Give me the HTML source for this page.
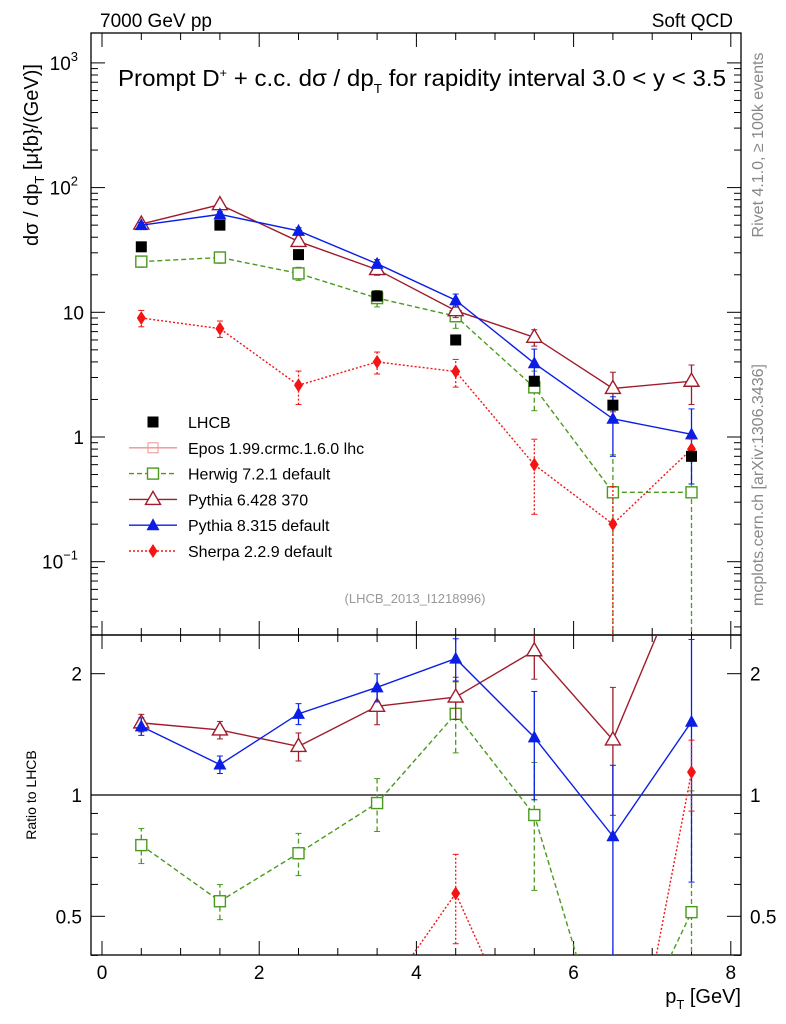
<!DOCTYPE html>
<html><head><meta charset="utf-8"><style>
html,body{margin:0;background:#fff;overflow:hidden;width:786px;height:1024px}
svg{display:block;font-family:"Liberation Sans",sans-serif}
</style></head><body>
<svg id="c" width="786" height="1024" viewBox="0 0 786 1024">
<text x="100" y="27" font-size="19">7000 GeV pp</text>
<text x="733" y="27" font-size="19" text-anchor="end">Soft QCD</text>
<text x="118" y="86" font-size="23" textLength="608" lengthAdjust="spacingAndGlyphs">Prompt D<tspan dy="-9" font-size="12">+</tspan><tspan dy="9"> + c.c.  dσ / dp</tspan><tspan dy="7" font-size="13">T</tspan><tspan dy="-7"> for rapidity interval 3.0 &lt; y &lt; 3.5</tspan></text>
<text transform="translate(763,145) rotate(-90)" font-size="16" fill="#888" text-anchor="middle">Rivet 4.1.0, ≥ 100k events</text>
<text transform="translate(763,485) rotate(-90)" font-size="16" fill="#888" text-anchor="middle">mcplots.cern.ch [arXiv:1306.3436]</text>
<text transform="translate(38,155) rotate(-90)" font-size="20" text-anchor="middle">dσ / dp<tspan dy="6" font-size="13">T</tspan><tspan dy="-6"> [μ{b}/(GeV)]</tspan></text>
<text transform="translate(36,795) rotate(-90)" font-size="14" text-anchor="middle">Ratio to LHCB</text>
<text x="741" y="1003" font-size="20" text-anchor="end">p<tspan dy="6" font-size="13">T</tspan><tspan dy="-6"> [GeV]</tspan></text>
<text x="415" y="603" font-size="13" fill="#999" text-anchor="middle">(LHCB_2013_I1218996)</text>
<g id="g"></g>
</svg>
<script>
const xCenters=[0.5,1.5,2.5,3.5,4.5,5.5,6.5,7.5];
const lhcb=[33.5,50,29,13.5,6,2.8,1.8,0.7];
const herwig=[25.5,27.5,20.5,13,9.3,2.5,0.36,0.36];
const herwigErr=[0.1,0.1,0.12,0.15,0.2,0.35,1,1];
const pythia6=[51,73,37,22,10.3,6.3,2.45,2.8];
const pythia6Err=[0.05,0.05,0.08,0.1,0.12,0.15,0.35,0.35];
const pythia8=[50,61,45,24.5,12.5,3.9,1.4,1.05];
const pythia8Err=[0.05,0.05,0.06,0.08,0.12,0.3,0.5,0.6];
const sherpa=[9,7.4,2.6,4,3.35,0.6,0.2,0.8];
const sherpaErr=[0.15,0.15,0.3,0.2,0.25,0.6,1,0.2];
const rHerwig=[0.751,0.545,0.717,0.955,1.59,0.892,0.2,0.512];
const rPythia6=[1.51,1.45,1.32,1.66,1.75,2.28,1.37,4];
const rPythia8=[1.48,1.19,1.59,1.85,2.18,1.39,0.79,1.52];
const rSherpa=[0.27,0.15,0.09,0.30,0.57,0.21,0.11,1.14];
const xTicks=[0,2,4,6,8];
const NS="http://www.w3.org/2000/svg";
const g=document.getElementById('g');
const L=91,R=741,T=33,M=635,B=955;
const X=v=>102+v*78.6;
const Y=v=>437-Math.log10(v)*124.7;
const YR=v=>795-Math.log10(v)*403;
function el(t,a,p){const e=document.createElementNS(NS,t);for(const k in a)e.setAttribute(k,a[k]);(p||g).appendChild(e);return e;}
const defs=el('defs',{});
const c1=el('clipPath',{id:'cm'},defs);el('rect',{x:L,y:T,width:R-L,height:M-T},c1);
const c2=el('clipPath',{id:'cr'},defs);el('rect',{x:L,y:M,width:R-L,height:B-M},c2);
const f1=el('rect',{x:L,y:T,width:R-L,height:M-T,fill:'none',stroke:'#000','stroke-width':1.3});

const f2=el('rect',{x:L,y:M,width:R-L,height:B-M,fill:'none',stroke:'#000','stroke-width':1.3});

for(let d=-2;d<=3;d++){for(let m=1;m<10;m++){const v=m*Math.pow(10,d);const y=Y(v);if(y<T||y>M)continue;const len=m==1?14:7;
el('line',{x1:L,x2:L+len,y1:y,y2:y,stroke:'#000'});el('line',{x1:R,x2:R-len,y1:y,y2:y,stroke:'#000'});}}
const yl=[[1000,'10','3'],[100,'10','2'],[10,'10',''],[1,'1',''],[0.1,'10','−1']];
yl.forEach(a=>{const t=el('text',{x:a[2]?78:84,y:Y(a[0])+7,'font-size':19,'text-anchor':'end'});t.textContent=a[1];

if(a[2]){const s=el('tspan',{dy:-9,'font-size':13},t);s.textContent=a[2];}});
for(const v of [0.4,0.5,0.6,0.7,0.8,0.9,1,2]){const y=YR(v);const len=(v==0.5||v==1||v==2)?14:7;
el('line',{x1:L,x2:L+len,y1:y,y2:y,stroke:'#000'});el('line',{x1:R,x2:R-len,y1:y,y2:y,stroke:'#000'});}
[[2,'2'],[1,'1'],[0.5,'0.5']].forEach(a=>{const t=el('text',{x:82,y:YR(a[0])+7,'font-size':19,'text-anchor':'end'});t.textContent=a[1];

const t2=el('text',{x:750,y:YR(a[0])+7,'font-size':19});t2.textContent=a[1];
});
el('line',{x1:L,x2:R,y1:YR(1),y2:YR(1),stroke:'#000','stroke-width':1.2});
for(let v=0;v<=8.01;v+=0.5){const x=X(v);if(x<L||x>R)continue;const maj=Math.abs(v-Math.round(v/2)*2)<0.01;const len=maj?14:7;
for(const [a,b] of [[M,M-len],[B,B-len],[T,T+len],[M,M+len]])el('line',{x1:x,x2:x,y1:a,y2:b,stroke:'#000'});}
xTicks.forEach(v=>{const t=el('text',{x:X(v),y:979,'font-size':19,'text-anchor':'middle'});t.textContent=v;
});
function mark(p,x,y,type,col){
 if(type=='sq')el('rect',{x:x-5.5,y:y-5.5,width:11,height:11,fill:'#fff',stroke:col,'stroke-width':1.4},p);
 else if(type=='fsq')el('rect',{x:x-5.5,y:y-5.5,width:11,height:11,fill:col},p);
 else if(type=='otri')el('polygon',{points:`${x},${y-8} ${x-7.5},${y+5} ${x+7.5},${y+5}`,fill:'#fff',stroke:col,'stroke-width':1.4},p);
 else if(type=='tri')el('polygon',{points:`${x},${y-7} ${x-6.5},${y+5} ${x+6.5},${y+5}`,fill:col},p);
 else if(type=='dia')el('polygon',{points:`${x},${y-7} ${x-4.5},${y} ${x},${y+7} ${x+4.5},${y}`,fill:col},p);
 else if(type=='cross'){el('rect',{x:x-5,y:y-5,width:10,height:10,fill:'none',stroke:col},p);}
}
function series(name,vals,errs,yf,col,dash,type,clip){
 const p=el('g',{'clip-path':`url(#${clip})`});
 
 const lim=clip=='cm'?M:B;
 const clampY=y=>Math.max(T-20,Math.min(lim+5,y));
 const pts=vals.map((v,i)=>[X(xCenters[i]),yf(v)]);
 el('polyline',{points:pts.map(q=>q.join(',')).join(' '),fill:'none',stroke:col,'stroke-width':1.4,'stroke-dasharray':dash},p);
 vals.forEach((v,i)=>{const x=X(xCenters[i]);const e=errs[i];const lo=v*(1-e)>0?clampY(yf(v*(1-e))):lim+5;const hi=clampY(yf(v*(1+e)));
  el('line',{x1:x,x2:x,y1:lo,y2:hi,stroke:col,'stroke-width':1.3,'stroke-dasharray':dash},p);
  el('line',{x1:x-3,x2:x+3,y1:hi,y2:hi,stroke:col},p);if(lo<lim)el('line',{x1:x-3,x2:x+3,y1:lo,y2:lo,stroke:col},p);
  const my=yf(v);if(my>T-20&&my<lim+20)mark(p,x,my,type,col);});
}
const cH='#4a9a1e',cP6='#a01c2c',cP8='#0a1ee6',cS='#f51414';
series('herwig-series',herwig,herwigErr,Y,cH,'5,3','sq','cm');
series('pythia6-series',pythia6,pythia6Err,Y,cP6,'','otri','cm');
series('pythia8-series',pythia8,pythia8Err,Y,cP8,'','tri','cm');
series('sherpa-series',sherpa,sherpaErr,Y,cS,'2,2','dia','cm');
const lp=el('g',{'clip-path':'url(#cm)'});
lhcb.forEach((v,i)=>mark(lp,X(xCenters[i]),Y(v),'fsq','#000'));
series('herwig-ratio',rHerwig,herwigErr,YR,cH,'5,3','sq','cr');
series('pythia6-ratio',rPythia6,pythia6Err,YR,cP6,'','otri','cr');
series('pythia8-ratio',rPythia8,pythia8Err,YR,cP8,'','tri','cr');
series('sherpa-ratio',rSherpa,sherpaErr,YR,cS,'2,2','dia','cr');
const leg=[['LHCB','#000','','fsq',false],['Epos 1.99.crmc.1.6.0 lhc','#f09090','','cross',true],['Herwig 7.2.1 default',cH,'5,3','sq',true],['Pythia 6.428 370',cP6,'','otri',true],['Pythia 8.315 default',cP8,'','tri',true],['Sherpa 2.2.9 default',cS,'2,2','dia',true]];
leg.forEach((a,i)=>{const y=422+i*25.8;const lg=el('g',{});
 if(a[4])el('line',{x1:129,x2:177,y1:y,y2:y,stroke:a[1],'stroke-width':1.4,'stroke-dasharray':a[2]},lg);
 mark(lg,153,y,a[3],a[1]);
 const t=el('text',{x:188,y:y+6,'font-size':16},lg);t.textContent=a[0];});
</script>
</body></html>
